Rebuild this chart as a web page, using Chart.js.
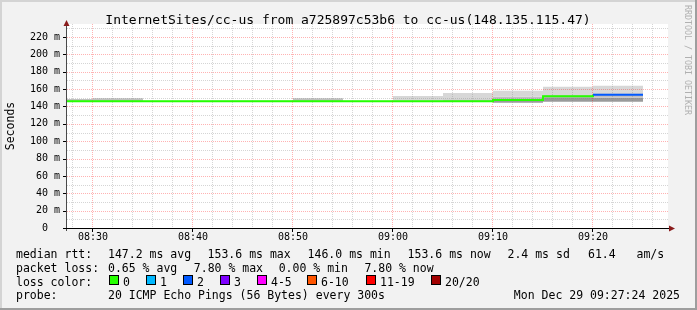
<!DOCTYPE html>
<html><head><meta charset="utf-8">
<script src="https://cdn.jsdelivr.net/npm/chart.js@4.4.1/dist/chart.umd.min.js"></script>
<style>html,body{margin:0;padding:0;background:#f2f2f2;}canvas{display:block;}</style>
</head><body>
<canvas id="c" width="697" height="310"></canvas>
<script>
// ---------- data ----------
const chartTitle = 'InternetSites/cc-us from a725897c53b6 to cc-us(148.135.115.47)';
const yAxisTitle = 'Seconds';
const stepEnds  = ['08:30','08:35','08:40','08:45','08:50','08:55','09:00','09:05','09:10','09:15','09:20','09:25'];
const medianRtt = [146.0,146.0,146.0,146.0,146.0,146.0,146.0,146.0,146.0,147.5,151.8,153.6];
const smokeMin  = [146.0,146.0,145.9,145.9,145.9,146.0,146.0,145.9,145.8,144.4,145.5,145.5];
const smokeLo   = [146.0,146.0,146.0,146.0,146.0,146.0,146.0,146.0,146.0,146.3,150.5,150.0];
const smokeHi   = [148.6,149.4,146.4,146.6,146.6,149.5,146.4,147.0,148.3,151.3,153.2,155.2];
const smokeMax  = [148.6,149.4,146.6,147.0,147.0,149.5,146.6,152.0,155.5,158.2,162.8,164.0];
const lossPct   = [0,0,0,0,0,0,0,0,0,0,0,7.8];
const pingsPerStep = 20;
const lossColorLabels = ['0','1','2','3','4-5','6-10','11-19','20/20'];
const lossColorFrom   = [0,1,2,3,4,6,11,20];
const lossColorValues = ['#26ff00','#00b8ff','#0059ff','#7e00ff','#ff00ff','#ff5500','#ff0000','#a10000'];
const timeRange = ['08:27:24','09:27:24'];
const yTickValues = [0,10,20,30,40,50,60,70,80,90,100,110,120,130,140,150,160,170,180,190,200,210,220,230];
const sdText = '2.4';
const amsText = '61.4';
const probeText = '20 ICMP Echo Pings (56 Bytes) every 300s';
const dateText = 'Mon Dec 29 09:27:24 2025';
const sideText = 'RRDTOOL / TOBI OETIKER';

// ---------- helpers ----------
const MONO = '"DejaVu Sans Mono"';
const toMin = s => { const p = s.split(':').map(Number); return p[0]*60 + p[1] + (p[2]||0)/60; };
const fmtTime = v => { const h = Math.floor(v/60), m = Math.round(v%60); return String(h).padStart(2,'0')+':'+String(m).padStart(2,'0'); };
const xMin = toMin(timeRange[0]), xMax = toMin(timeRange[1]);
const stepLen = toMin(stepEnds[1]) - toMin(stepEnds[0]);
const xTickValues = [];
for (let v = Math.ceil(xMin/2)*2; v <= xMax; v += 2) xTickValues.push(v);
// step series: value i is held from (end_i - step) to end_i
function series(vals){
  const pts = stepEnds.map((e,i)=>({x: toMin(e)-stepLen, y: vals[i]}));
  pts.push({x: toMin(stepEnds[stepEnds.length-1]), y: vals[vals.length-1]});
  return pts;
}
function lossColorFor(pct){
  const lost = Math.round(pct/100*pingsPerStep);
  let idx = 0;
  lossColorFrom.forEach((f,i)=>{ if (lost >= f) idx = i; });
  return lossColorValues[idx];
}
const mean = a => a.reduce((s,v)=>s+v,0)/a.length;
const rttStats = {
  avg: mean(medianRtt).toFixed(1), max: Math.max(...medianRtt).toFixed(1),
  min: Math.min(...medianRtt).toFixed(1), now: medianRtt[medianRtt.length-1].toFixed(1)
};
const lossStats = {
  avg: mean(lossPct).toFixed(2), max: Math.max(...lossPct).toFixed(2),
  min: Math.min(...lossPct).toFixed(2), now: lossPct[lossPct.length-1].toFixed(2)
};

// ---------- plugin: background, grid, axes, texts ----------
const rrdPlugin = {
  id: 'rrd',
  beforeDraw(chart){
    const {ctx, chartArea:a, width:W, height:H} = chart;
    ctx.save();
    ctx.fillStyle = '#f2f2f2'; ctx.fillRect(0,0,W,H);
    ctx.fillStyle = '#d4d4d4'; ctx.fillRect(0,0,W,2); ctx.fillRect(0,0,2,H);
    ctx.fillStyle = '#9e9e9e'; ctx.fillRect(W-2,0,2,H); ctx.fillRect(0,H-2,W,2);
    ctx.fillStyle = '#ffffff'; ctx.fillRect(a.left, a.top, a.right-a.left+1, a.bottom-a.top);
    ctx.restore();
  },
  afterDatasetDraw(chart, args){
    if (args.index !== 1) return;
    const {ctx, chartArea:a, scales:{x,y}} = chart;
    ctx.save();
    ctx.lineWidth = 1; ctx.setLineDash([1,1]);
    y.ticks.forEach(t=>{
      if (t.value === 0) return;
      const py = Math.round(y.getPixelForValue(t.value)) + 0.5;
      ctx.strokeStyle = t.value % 20 === 0 ? 'rgba(255,0,0,0.3)' : 'rgba(128,128,128,0.33)';
      ctx.beginPath(); ctx.moveTo(a.left, py); ctx.lineTo(a.right+1, py); ctx.stroke();
    });
    x.ticks.forEach(t=>{
      const px = Math.round(x.getPixelForValue(t.value)) - 0.5;
      ctx.strokeStyle = Math.abs(t.value % 10) < 1e-9 ? 'rgba(255,0,0,0.3)' : 'rgba(128,128,128,0.33)';
      ctx.beginPath(); ctx.moveTo(px, a.top); ctx.lineTo(px, a.bottom); ctx.stroke();
    });
    ctx.restore();
  },
  afterDraw(chart){
    const {ctx, chartArea:a, scales:{x,y}} = chart;
    ctx.save();
    ctx.fillStyle = '#000';
    y.ticks.forEach(t=>{
      if (t.value % 20 !== 0) return;
      const py = Math.round(y.getPixelForValue(t.value));
      ctx.fillRect(a.left-4, py, 4, 1);
    });
    x.ticks.forEach(t=>{
      if (Math.abs(t.value % 10) > 1e-9) return;
      const px = Math.round(x.getPixelForValue(t.value)) - 1;
      ctx.fillRect(px, a.bottom, 1, 4);
    });
    ctx.fillStyle = '#4a4a4a'; ctx.fillRect(a.left-1, a.top-2, 1, a.bottom-a.top+5);
    ctx.fillStyle = '#000'; ctx.fillRect(a.left-4, a.bottom, a.right-a.left+7, 1);
    ctx.fillStyle = '#8a1c1c';
    ctx.beginPath(); ctx.moveTo(a.left-3.5, a.top+2); ctx.lineTo(a.left+2.5, a.top+2); ctx.lineTo(a.left-0.5, a.top-4); ctx.closePath(); ctx.fill();
    ctx.beginPath(); ctx.moveTo(a.right+2, a.bottom-2.5); ctx.lineTo(a.right+2, a.bottom+3.5); ctx.lineTo(a.right+8, a.bottom+0.5); ctx.closePath(); ctx.fill();
    ctx.fillStyle = '#000';
    ctx.font = '13px ' + MONO; ctx.textAlign = 'center'; ctx.textBaseline = 'alphabetic';
    ctx.fillText(chartTitle, 348, 24);
    ctx.font = '11.5px ' + MONO; ctx.textAlign = 'left';
    const L = (t, px, py) => ctx.fillText(t, px, py);
    const b1 = 258.3, b2 = 272, b3 = 285.7, b4 = 299.4;
    L('median rtt:', 16, b1);
    L(rttStats.avg + ' ms avg', 108, b1);
    L(rttStats.max + ' ms max', 207.6, b1);
    L(rttStats.min + ' ms min', 307.6, b1);
    L(rttStats.now + ' ms now', 407.6, b1);
    L(sdText + ' ms sd', 507.5, b1);
    L(amsText + '   am/s', 588, b1);
    L('packet loss:', 16, b2);
    L(lossStats.avg + ' % avg', 108, b2);
    L(lossStats.max + ' % max', 193.8, b2);
    L(lossStats.min + ' % min', 278.7, b2);
    L(lossStats.now + ' % now', 364.4, b2);
    L('loss color:', 16, b3);
    const boxX = [109, 145.7, 182.7, 219.7, 257.3, 307.4, 365.7, 430.5];
    lossColorLabels.forEach((lab,i)=>{
      const bx = Math.round(boxX[i]);
      ctx.fillStyle = '#000'; ctx.fillRect(bx, 275, 10, 10);
      ctx.fillStyle = lossColorValues[i]; ctx.fillRect(bx+1, 276, 8, 8);
      ctx.fillStyle = '#000'; L(lab, bx + 14, b3);
    });
    L('probe:', 16, b4);
    L(probeText, 108, b4);
    ctx.textAlign = 'right'; L(dateText, 680, b4);
    ctx.save();
    ctx.fillStyle = '#b0b0b0'; ctx.font = '8.3px ' + MONO;
    ctx.translate(687.5, 5); ctx.rotate(Math.PI/2);
    ctx.textAlign = 'left'; ctx.textBaseline = 'middle';
    ctx.fillText(sideText, 0, 0);
    ctx.restore();
    ctx.restore();
  }
};

const smokeBase = {stepped:'before', borderWidth:1, borderColor:'rgba(0,0,0,0)', pointRadius:0};
new Chart(document.getElementById('c'), {
  type: 'line',
  data: {
    datasets: [
      {label:'median', data: series(medianRtt), stepped:'before', borderWidth:2, pointRadius:0,
       borderColor: lossColorValues[0], fill:false, borderCapStyle:'butt',
       segment:{ borderColor: c => lossColorFor(lossPct[Math.min(c.p0DataIndex, lossPct.length-1)]) }},
      Object.assign({label:'smoke max', data: series(smokeMax), backgroundColor:'#d7d7d7', fill:'+1'}, smokeBase),
      Object.assign({label:'smoke hi',  data: series(smokeHi),  backgroundColor:'#c0c0c0', fill:'+1'}, smokeBase),
      Object.assign({label:'smoke lo',  data: series(smokeLo),  backgroundColor:'#9a9a9a', fill:'+1'}, smokeBase),
      Object.assign({label:'smoke min', data: series(smokeMin), fill:false}, smokeBase)
    ]
  },
  options: {
    responsive:false, animation:false, devicePixelRatio:1,
    layout:{padding:{left:0, top:24, right:30, bottom:0}},
    plugins:{legend:{display:false}, tooltip:{enabled:false}, title:{display:false}},
    scales:{
      x:{
        type:'linear', min:xMin, max:xMax, offset:false,
        afterFit: s => { s.height = 82; },
        afterBuildTicks: s => { s.ticks = xTickValues.map(v=>({value:v})); },
        grid:{display:false, drawTicks:false}, border:{display:false},
        ticks:{autoSkip:false, maxRotation:0, minRotation:0, padding:3, color:'#000',
          font:{family:'DejaVu Sans Mono', size:10},
          callback: v => (Math.abs(v % 10) < 1e-9 ? fmtTime(v) : '')}
      },
      y:{
        type:'linear', min:0, max:235,
        afterFit: s => { s.width = 67; },
        afterBuildTicks: s => { s.ticks = yTickValues.map(v=>({value:v})); },
        grid:{display:false, drawTicks:false}, border:{display:false},
        title:{display:true, text:yAxisTitle, color:'#000', font:{family:'DejaVu Sans Mono', size:11.5, lineHeight:1.2}, padding:{top:4, bottom:0}},
        ticks:{autoSkip:false, padding:7, color:'#000', font:{family:'DejaVu Sans Mono', size:10},
          callback: v => (v % 20 === 0 ? (v === 0 ? '0  ' : v + ' m') : '')}
      }
    }
  },
  plugins:[rrdPlugin]
});
</script>
</body></html>
